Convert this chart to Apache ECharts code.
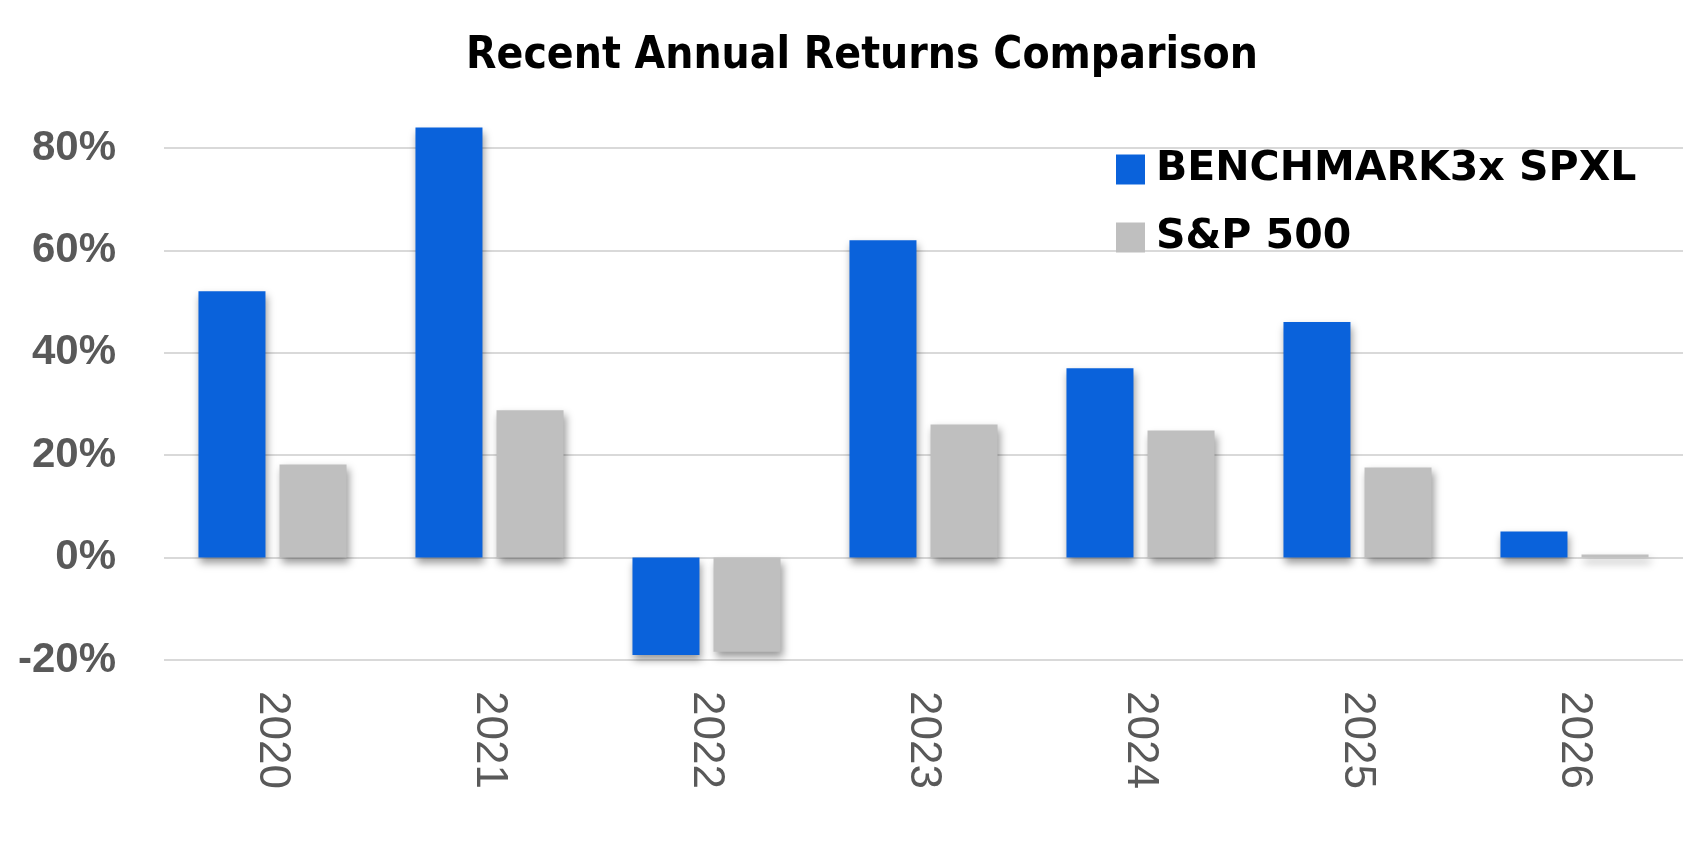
<!DOCTYPE html>
<html>
<head>
<meta charset="utf-8">
<script src="https://cdn.jsdelivr.net/npm/echarts@6/dist/echarts.min.js"></script>
<style>
html,body{margin:0;padding:0;background:#fff;}
#chart{width:1699px;height:844px;}
</style>
</head>
<body>
<div id="chart"></div>
<script>
const categories = ['2020', '2021', '2022', '2023', '2024', '2025', '2026'];
const spxlReturns = [52, 84, -19, 62, 37, 46, 5.1];
const sp500Returns = [18.2, 28.8, -18.4, 26, 24.8, 17.6, 0.6];
const seriesNames = ['BENCHMARK3x SPXL', 'S&P 500'];
const titleText = 'Recent Annual Returns Comparison';

const chart = echarts.init(document.getElementById('chart'));
const shadow = {shadowColor: 'rgba(0,0,0,0.4)', shadowBlur: 8, shadowOffsetX: 2, shadowOffsetY: 5};
chart.setOption({
  animation: false,
  backgroundColor: '#ffffff',
  title: {
    text: titleText,
    left: 857,
    textAlign: 'center',
    top: 30,
    textStyle: {fontFamily: "'Liberation Sans Narrow', 'DejaVu Sans Condensed', sans-serif", fontWeight: 'bold', fontSize: 44, color: '#000'}
  },
  legend: {
    orient: 'vertical',
    left: 1111,
    top: 144,
    itemWidth: 29,
    itemHeight: 30,
    itemGap: 27,
    icon: 'rect',
    textStyle: {fontFamily: "'DejaVu Sans', sans-serif", fontWeight: 'bold', fontSize: 41, color: '#000', padding: [0, 0, 0, 6]},
    data: seriesNames
  },
  grid: {left: 164, right: 16, top: 148, bottom: 184, containLabel: false},
  xAxis: {
    type: 'category',
    data: categories,
    axisLine: {show: false, onZero: false},
    axisTick: {show: false},
    axisLabel: {rotate: -90, margin: 31, fontFamily: "'Liberation Sans', Arial, sans-serif", fontSize: 44, color: '#595959'}
  },
  yAxis: {
    type: 'value',
    min: -20,
    max: 80,
    interval: 20,
    axisLine: {show: false},
    axisTick: {show: false},
    splitLine: {lineStyle: {color: '#d9d9d9', width: 2}},
    axisLabel: {margin: 48, formatter: '{value}%', fontFamily: "'Liberation Sans', Arial, sans-serif", fontWeight: 'bold', fontSize: 42, color: '#595959'}
  },
  series: [
    {name: seriesNames[0], type: 'bar', data: spxlReturns, barWidth: 67, barGap: '21%', clip: false,
     itemStyle: Object.assign({color: '#0a62db'}, shadow)},
    {name: seriesNames[1], type: 'bar', data: sp500Returns, barWidth: 67, clip: false,
     itemStyle: Object.assign({color: '#bfbfbf'}, shadow)}
  ]
});
</script>
</body>
</html>
